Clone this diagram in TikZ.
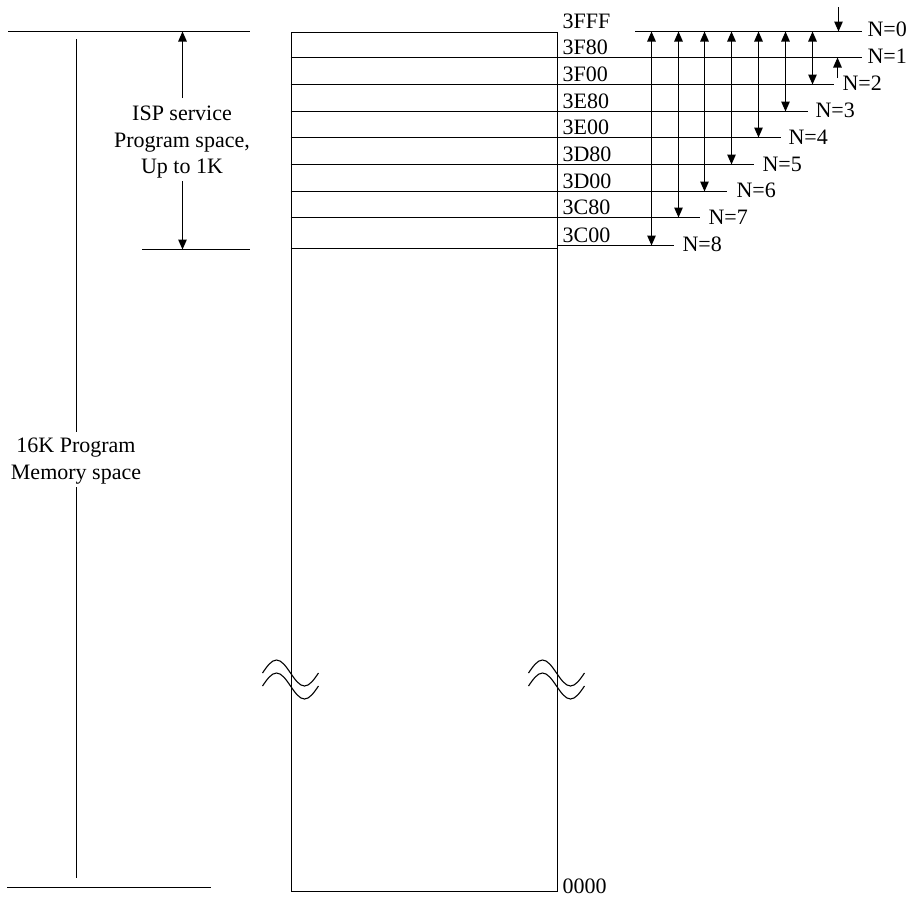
\documentclass[tikz,border=0pt]{standalone}
\usepackage{fontspec}
\setmainfont{Liberation Serif}
\usetikzlibrary{arrows.meta}
\begin{document}
\begin{tikzpicture}[x=1pt,y=-1pt,line width=1.2pt,
  txt/.style={inner sep=0pt,font=\fontsize{22}{27}\selectfont},
  lbl/.style={txt,anchor=base west},
  ctr/.style={txt,anchor=base},
  tip/.style={-{Triangle[length=10pt,width=8.5pt]}},
  dbl/.style={{Triangle[length=10pt,width=8.5pt]}-{Triangle[length=10pt,width=8.5pt]}},
  wave/.style={line width=1.1pt}]
\useasboundingbox (0,0) rectangle (911,897);

% memory box
\node[draw,inner sep=0pt,minimum width=266pt,minimum height=859pt,anchor=north west] (mem) at (290.5,31.5) {};

% left guide lines
\coordinate (topL) at (8,31.5);   \coordinate (topR) at (250,31.5);
\coordinate (midL) at (142,249.5); \coordinate (midR) at (250,249.5);
\coordinate (botL) at (7,887.5);  \coordinate (botR) at (211,887.5);
\draw (topL) -- (topR);
\draw (midL) -- (midR);
\draw (botL) -- (botR);

% 16K label and dimension line
\node[ctr] (k1) at (76,452) {16K Program};
\node[ctr] (k2) at (76,479) {Memory space};
\coordinate (kTop) at (76.5,39);  \coordinate (kA) at (76.5,432);
\coordinate (kB) at (76.5,487);   \coordinate (kBot) at (76.5,878);
\draw (kTop) -- (kA);
\draw (kB) -- (kBot);

% ISP label and dimension arrows
\node[ctr] (i1) at (182,120) {ISP service};
\node[ctr] (i2) at (182,147) {Program space,};
\node[ctr] (i3) at (182,173) {Up to 1K};
\coordinate (iA) at (182.5,98);  \coordinate (iTop) at (182.5,31.5);
\coordinate (iB) at (182.5,181); \coordinate (iBot) at (182.5,249.5);
\draw[tip] (iA) -- (iTop);
\draw[tip] (iB) -- (iBot);

% partition lines inside box and extensions
\foreach \y/\e in {57.5/862, 84.5/834, 111.5/808, 137.5/781, 164.5/754, 191.5/727, 217.5/700}
  \draw (290.5,\y) -- (\e,\y);
\draw (290.5,248.5) -- (556.5,248.5);
\draw (556.5,245.5) -- (674,245.5);
\draw (635,31.5) -- (862,31.5);

% address labels
\foreach \t/\y in {3FFF/28.5, 3F80/54.5, 3F00/81.5, 3E80/108.5, 3E00/134.5, 3D80/161.5, 3D00/188.5, 3C80/214.5, 3C00/242}
  \node[lbl] (a\t) at (562,\y) {\t};
\node[lbl] (a0000) at (562,893) {0000};

% double arrows
\foreach \x/\y in {651.5/245.5, 678.5/217.5, 704.5/191.5, 731.5/164.5, 758.5/137.5, 785.5/111.5, 812.5/84.5}
  \draw[dbl] (\x,31.5) -- (\x,\y);
\coordinate (n0a) at (838.5,7);  \coordinate (n0b) at (838.5,31.5);
\coordinate (n1a) at (837.5,78); \coordinate (n1b) at (837.5,57.5);
\draw[tip] (n0a) -- (n0b);
\draw[tip] (n1a) -- (n1b);

% N labels
\foreach \n/\x/\y in {0/867/36, 1/867/63, 2/842/90.5, 3/815/117, 4/788/144, 5/762/171, 6/736/197.5, 7/708/224, 8/682/251}
  \node[lbl] (N\n) at (\x,\y) {N=\n};

% break symbols
\foreach \cx in {290.5,556.5}
  \foreach \dy in {0,13}
    \draw[wave] ({\cx-28},{673+\dy}) sin ({\cx-14},{660+\dy}) cos (\cx,{673+\dy}) sin ({\cx+14},{686+\dy}) cos ({\cx+28},{673+\dy});
\end{tikzpicture}
\end{document}
